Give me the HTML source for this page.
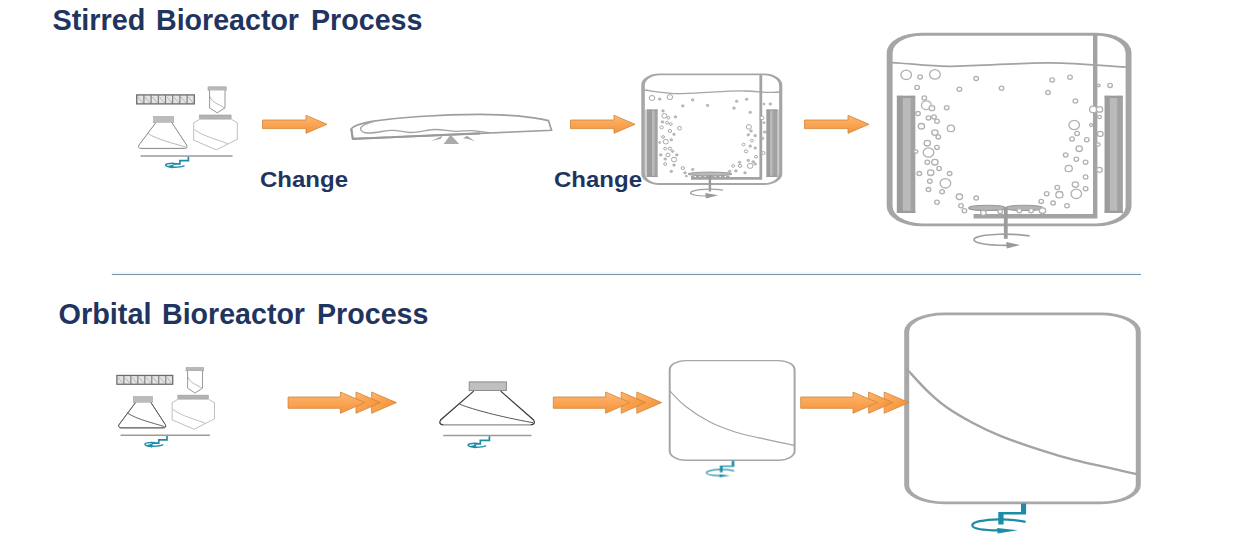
<!DOCTYPE html>
<html><head><meta charset="utf-8"><title>Bioreactor Process</title>
<style>
html,body{margin:0;padding:0;background:#fff;}
body{width:1249px;height:545px;overflow:hidden;position:relative;font-family:"Liberation Sans",sans-serif;}
svg{position:absolute;left:0;top:0;}
.t{font-family:"Liberation Sans",sans-serif;font-weight:bold;fill:#1f3560;}
</style></head><body>
<svg width="1249" height="545" viewBox="0 0 1249 545">
<defs>
<linearGradient id="og" x1="0" y1="0" x2="0" y2="1">
<stop offset="0" stop-color="#fdb772"/><stop offset="0.55" stop-color="#faa352"/><stop offset="1" stop-color="#f5933a"/>
</linearGradient>
<linearGradient id="hg" x1="0" y1="0" x2="1" y2="0.9"><stop offset="0" stop-color="#fdb56c"/><stop offset="0.5" stop-color="#f9a04c"/><stop offset="1" stop-color="#f08c2e"/></linearGradient>
<pattern id="hatch" width="7.3" height="10" patternUnits="userSpaceOnUse">
<rect width="7.3" height="10" fill="#d2d2d2"/><path d="M0.5 0V10" stroke="#777" stroke-width="1"/><path d="M1.5 1L6.5 9" stroke="#9a9a9a" stroke-width="0.8"/>
</pattern>
<filter id="bl"><feGaussianBlur stdDeviation="0.55"/></filter>
</defs>

<!-- TITLES -->
<g class="t" font-size="29.7">
<text x="52.5" y="29.7" textLength="93" lengthAdjust="spacingAndGlyphs">Stirred</text>
<text x="156" y="29.7" textLength="143" lengthAdjust="spacingAndGlyphs">Bioreactor</text>
<text x="311" y="29.7" textLength="111.5" lengthAdjust="spacingAndGlyphs">Process</text>
<text x="58.5" y="324" textLength="93" lengthAdjust="spacingAndGlyphs">Orbital</text>
<text x="162" y="324" textLength="143" lengthAdjust="spacingAndGlyphs">Bioreactor</text>
<text x="317" y="324" textLength="111.5" lengthAdjust="spacingAndGlyphs">Process</text>
</g>
<text class="t" x="260" y="187.1" font-size="22" textLength="88" lengthAdjust="spacingAndGlyphs">Change</text>
<text class="t" x="554" y="187.1" font-size="22" textLength="88" lengthAdjust="spacingAndGlyphs">Change</text>

<!-- divider -->
<path d="M111.8 273H1141" stroke="#edf9fc" stroke-width="2"/><path d="M111.8 274.5H1141" stroke="#80909d" stroke-width="1"/>

<g filter="url(#bl)">
<!-- ARROWS row 1 -->
<g fill="url(#og)" stroke="#cf8438" stroke-width="0.8">
<path id="ar1" d="M262.5 120H306V115.3L327 124.3L306 133.3V128.6H262.5Z"/>
<path d="M570.5 120H614V115.3L635 124.3L614 133.3V128.6H570.5Z"/>
<path d="M804.5 120H848V115.3L869 124.3L848 133.3V128.6H804.5Z"/>
</g>

<!-- ICON GROUP 1 (top-left) -->
<g id="ig1">
<rect x="136.7" y="94.9" width="57.6" height="9" fill="#e3e3e3" stroke="#6c6c6c" stroke-width="1.3"/>
<path d="M143.9 95V104M151.1 95V104M158.3 95V104M165.5 95V104M172.7 95V104M179.9 95V104M187.1 95V104" stroke="#777" stroke-width="1.1"/>
<path d="M138 97L143 103M145 97L150 103M152.5 97L157.5 103M159.5 97L164.5 103M167 97L172 103M174 97L179 103M181 97L186 103M188.5 97L193 103" stroke="#aaa" stroke-width="0.8"/>
<!-- tube -->
<rect x="208" y="86.8" width="18.2" height="3.6" fill="#b8b8b8" stroke="#a0a0a0" stroke-width="0.6"/>
<path d="M209.6 90.5V107.9L217.2 112.8L225 107.9V90.5" fill="#fff" stroke="#8a8a8a" stroke-width="0.9"/>
<path d="M210 96.5C212 103 219 104 224.5 108" fill="none" stroke="#999" stroke-width="0.7"/>
<!-- flask -->
<rect x="153.7" y="116.5" width="19.8" height="6.2" fill="#bcbcbc" stroke="#a2a2a2" stroke-width="0.6"/>
<path d="M155.8 122.7L139 145Q137.3 148.2 141 148.4H184.5Q188.3 148.2 186.6 145L171.9 122.7" fill="#fff" stroke="#858585" stroke-width="1"/>
<path d="M147.4 133.2C158 140 173 143 185.8 147.2" fill="none" stroke="#999" stroke-width="0.7"/>
<!-- bottle -->
<rect x="199.5" y="115" width="31.6" height="3.6" fill="#b3b3b3" stroke="#9c9c9c" stroke-width="0.6"/>
<path d="M199.8 119.2L193.7 122.7V140.2L216.3 149.8L237.3 139.3V122.7L231.2 119.2Z" fill="#fff" stroke="#adadad" stroke-width="0.8"/>
<path d="M194.5 129.7C205 137 216 139 227.7 143.7" fill="none" stroke="#a2a2a2" stroke-width="0.7"/>
<!-- base -->
<path d="M140.5 155.9H232.6" stroke="#9b9b9b" stroke-width="1.5"/>
<path d="M188.400 156.700V160.600H179.900V163.900H172.500" fill="none" stroke="#1f8ca8" stroke-width="1.700"/>
<path d="M176 163.600C170 162.800 164 164 166 165.800C168 167.600 180 167.800 184.500 165.600" fill="none" stroke="#1f8ca8" stroke-width="1.400"/>
<path d="M166.800 166.200L173.800 164.400L172.800 168.600Z" fill="#1f8ca8"/>
</g>

<!-- WAVE BAG -->
<g id="wave" fill="none" stroke="#a3a3a3">
<path d="M351.3 128.8L352.8 138.9L551.5 130.3L548.5 120.7C530 116.5 505 114.4 480 114.4C440 114.4 395 117.5 370.3 121.7C360 123.8 353 126.5 351.3 128.8Z" stroke-width="1.7" stroke="#9e9e9e" fill="#fff"/>
<path d="M351.300 128.800L352.800 138.900L480 133.400" stroke="#9a9a9a" stroke-width="2.100"/>
<path d="M375 121C365 123.5 360 126.5 360.7 129.3C361.5 132 364 133 368 133C378 133 385 130.2 392.5 130.3C400 130.4 404 132.5 410.7 132.5C420 132.5 428 129.5 435.9 129.5C443 129.5 448 131 455.1 131.3C462 131.5 466 130.5 470.3 130.6C477 130.8 483 132 490 132.7" stroke-width="1.3"/>
<path d="M450.6 134.8L443.6 144H459.2Z" fill="#aaa" stroke="none"/>
<path d="M430.800 141.200L442.800 135.600L440.500 139L436.500 139.800Z M474.800 141.200L467 135.800L463 138.200L468 139Z" fill="#a8a8a8" stroke="none"/>
</g>

<!-- BIOREACTOR 1 -->
<g id="br1" fill="none">
<path fill="#fff" d="M659.3 73.6H764.3A18.0 11.5 0 0 1 782.3 85.1V173.4A18.0 11.5 0 0 1 764.3 184.9H659.3A18.0 11.5 0 0 1 641.3 173.4V85.1A18.0 11.5 0 0 1 659.3 73.6Z"/>
<rect x="644.6" y="109.6" width="3" height="67.4" fill="#d0d0d0"/><rect x="776.8" y="109.6" width="2.6" height="67.4" fill="#cdcdcd"/>
<path fill-rule="evenodd" fill="#a6a6a6" d="M659.3 73.6H764.3A18.0 11.5 0 0 1 782.3 85.1V173.4A18.0 11.5 0 0 1 764.3 184.9H659.3A18.0 11.5 0 0 1 641.3 173.4V85.1A18.0 11.5 0 0 1 659.3 73.6Z M659.8 75.3A15.0 10.0 0 0 0 644.8 85.3V173.1A15.0 10.0 0 0 0 659.8 183.1H764.1A15.0 10.0 0 0 0 779.1 173.1V85.3A15.0 10.0 0 0 0 764.1 75.3Z"/>
<path d="M644.500 90C655 91.500 668 94 682 93.600C705 93 730 90.500 745 91C760 91.500 770 93.500 779.500 92" stroke="#a5a5a5" stroke-width="1.300"/>
<path d="M760.800 75V178.400H691" stroke="#a3a3a3" stroke-width="2.800"/>
<rect x="647.0" y="109.6" width="10.5" height="67.4" fill="#bababa"/><rect x="647.0" y="109.6" width="5.0" height="67.4" fill="#9c9c9c"/><rect x="654.7" y="109.6" width="2.8" height="67.4" fill="#a2a2a2"/><rect x="647.0" y="109.6" width="10.5" height="1.2" fill="#9c9c9c"/><rect x="647.0" y="175.8" width="10.5" height="1.2" fill="#9c9c9c"/>
<rect x="766.5" y="109.6" width="10.7" height="67.4" fill="#bababa"/><rect x="766.5" y="109.6" width="3.5" height="67.4" fill="#9c9c9c"/><rect x="772.5" y="109.6" width="4.7" height="67.4" fill="#a2a2a2"/><rect x="766.5" y="109.6" width="10.7" height="1.2" fill="#9c9c9c"/><rect x="766.5" y="175.8" width="10.7" height="1.2" fill="#9c9c9c"/>
<ellipse cx="710" cy="174" rx="22" ry="1.900" fill="#b9b9b9" stroke="#9a9a9a" stroke-width="1"/>
<path d="M691 176.800H731" stroke="#a4a4a4" stroke-width="1.600" stroke-dasharray="3.400 1.600"/>
<path d="M709.900 175V191.500" stroke="#9a9a9a" stroke-width="2.400"/>
<path d="M723 190.200C712 188.400 695 189 691 192C688.500 194.500 697 196.200 707 196" stroke="#a0a0a0" stroke-width="1.200"/>
<path d="M705.200 193L718.200 195.200L706 198.400Z" fill="#9a9a9a"/>
</g>
<g id="bub1" fill="#fff" stroke="#a8a8a8" stroke-width="1"><ellipse cx="652.0" cy="98.0" rx="2.8" ry="2.5"/><ellipse cx="659.7" cy="99.1" rx="1.3" ry="1.1" fill="#c4c4c4" stroke="#a4a4a4" stroke-width="0.8"/><ellipse cx="669.9" cy="97.1" rx="2.8" ry="2.5"/><ellipse cx="682.8" cy="105.9" rx="1.3" ry="1.1" fill="#c4c4c4" stroke="#a4a4a4" stroke-width="0.8"/><ellipse cx="692.7" cy="99.9" rx="1.3" ry="1.1" fill="#c4c4c4" stroke="#a4a4a4" stroke-width="0.8"/><ellipse cx="707.6" cy="105.4" rx="1.3" ry="1.1" fill="#c4c4c4" stroke="#a4a4a4" stroke-width="0.8"/><ellipse cx="734.0" cy="108.1" rx="1.3" ry="1.1" fill="#c4c4c4" stroke="#a4a4a4" stroke-width="0.8"/><ellipse cx="736.7" cy="101.3" rx="1.3" ry="1.1" fill="#c4c4c4" stroke="#a4a4a4" stroke-width="0.8"/><ellipse cx="746.6" cy="99.3" rx="1.3" ry="1.1" fill="#c4c4c4" stroke="#a4a4a4" stroke-width="0.8"/><ellipse cx="750.2" cy="112.3" rx="1.3" ry="1.1" fill="#c4c4c4" stroke="#a4a4a4" stroke-width="0.8"/><ellipse cx="764.0" cy="104.0" rx="1.0" ry="0.9" fill="#c4c4c4" stroke="#a4a4a4" stroke-width="0.8"/><ellipse cx="770.3" cy="104.0" rx="1.3" ry="1.1" fill="#c4c4c4" stroke="#a4a4a4" stroke-width="0.8"/><ellipse cx="663.0" cy="110.9" rx="1.3" ry="1.1" fill="#c4c4c4" stroke="#a4a4a4" stroke-width="0.8"/><ellipse cx="664.4" cy="115.8" rx="2.6" ry="2.3"/><ellipse cx="668.5" cy="117.8" rx="1.5" ry="1.3"/><ellipse cx="675.4" cy="116.9" rx="1.3" ry="1.1" fill="#c4c4c4" stroke="#a4a4a4" stroke-width="0.8"/><ellipse cx="662.5" cy="121.9" rx="1.3" ry="1.1" fill="#c4c4c4" stroke="#a4a4a4" stroke-width="0.8"/><ellipse cx="667.1" cy="122.7" rx="1.5" ry="1.3"/><ellipse cx="670.7" cy="124.1" rx="1.5" ry="1.3"/><ellipse cx="661.6" cy="127.4" rx="1.7" ry="1.5"/><ellipse cx="679.5" cy="128.2" rx="2.0" ry="1.8"/><ellipse cx="669.9" cy="131.0" rx="1.7" ry="1.5"/><ellipse cx="674.0" cy="134.3" rx="1.3" ry="1.1" fill="#c4c4c4" stroke="#a4a4a4" stroke-width="0.8"/><ellipse cx="663.0" cy="137.0" rx="1.5" ry="1.3"/><ellipse cx="665.8" cy="141.7" rx="2.6" ry="2.3"/><ellipse cx="671.3" cy="139.8" rx="1.3" ry="1.1" fill="#c4c4c4" stroke="#a4a4a4" stroke-width="0.8"/><ellipse cx="659.7" cy="142.5" rx="1.0" ry="0.9" fill="#c4c4c4" stroke="#a4a4a4" stroke-width="0.8"/><ellipse cx="665.2" cy="148.6" rx="1.5" ry="1.3"/><ellipse cx="669.9" cy="148.6" rx="1.7" ry="1.5"/><ellipse cx="672.6" cy="151.3" rx="1.3" ry="1.1" fill="#c4c4c4" stroke="#a4a4a4" stroke-width="0.8"/><ellipse cx="660.8" cy="154.9" rx="1.3" ry="1.1" fill="#c4c4c4" stroke="#a4a4a4" stroke-width="0.8"/><ellipse cx="668.0" cy="154.9" rx="2.0" ry="1.8"/><ellipse cx="676.8" cy="154.9" rx="1.3" ry="1.1" fill="#c4c4c4" stroke="#a4a4a4" stroke-width="0.8"/><ellipse cx="665.2" cy="159.0" rx="1.3" ry="1.1" fill="#c4c4c4" stroke="#a4a4a4" stroke-width="0.8"/><ellipse cx="674.0" cy="159.6" rx="2.6" ry="2.3"/><ellipse cx="665.2" cy="164.0" rx="1.5" ry="1.3"/><ellipse cx="674.0" cy="165.1" rx="1.3" ry="1.1" fill="#c4c4c4" stroke="#a4a4a4" stroke-width="0.8"/><ellipse cx="671.3" cy="171.4" rx="1.3" ry="1.1" fill="#c4c4c4" stroke="#a4a4a4" stroke-width="0.8"/><ellipse cx="682.8" cy="168.1" rx="1.7" ry="1.5"/><ellipse cx="692.7" cy="169.5" rx="1.3" ry="1.1" fill="#c4c4c4" stroke="#a4a4a4" stroke-width="0.8"/><ellipse cx="685.0" cy="172.8" rx="1.3" ry="1.1" fill="#c4c4c4" stroke="#a4a4a4" stroke-width="0.8"/><ellipse cx="686.4" cy="176.1" rx="1.0" ry="0.9" fill="#c4c4c4" stroke="#a4a4a4" stroke-width="0.8"/><ellipse cx="748.8" cy="126.9" rx="2.6" ry="2.3"/><ellipse cx="751.0" cy="131.0" rx="1.3" ry="1.1" fill="#c4c4c4" stroke="#a4a4a4" stroke-width="0.8"/><ellipse cx="748.3" cy="134.8" rx="1.3" ry="1.1" fill="#c4c4c4" stroke="#a4a4a4" stroke-width="0.8"/><ellipse cx="755.2" cy="135.7" rx="1.3" ry="1.1" fill="#c4c4c4" stroke="#a4a4a4" stroke-width="0.8"/><ellipse cx="762.0" cy="117.8" rx="2.0" ry="1.8"/><ellipse cx="764.0" cy="122.7" rx="1.0" ry="0.9" fill="#c4c4c4" stroke="#a4a4a4" stroke-width="0.8"/><ellipse cx="764.8" cy="132.1" rx="1.3" ry="1.1" fill="#c4c4c4" stroke="#a4a4a4" stroke-width="0.8"/><ellipse cx="762.6" cy="138.4" rx="1.3" ry="1.1" fill="#c4c4c4" stroke="#a4a4a4" stroke-width="0.8"/><ellipse cx="751.9" cy="140.6" rx="1.5" ry="1.3"/><ellipse cx="743.6" cy="144.5" rx="1.5" ry="1.3"/><ellipse cx="750.2" cy="146.1" rx="1.3" ry="1.1" fill="#c4c4c4" stroke="#a4a4a4" stroke-width="0.8"/><ellipse cx="755.2" cy="148.0" rx="1.3" ry="1.1" fill="#c4c4c4" stroke="#a4a4a4" stroke-width="0.8"/><ellipse cx="746.1" cy="151.3" rx="1.7" ry="1.5"/><ellipse cx="763.4" cy="153.0" rx="1.7" ry="1.5"/><ellipse cx="756.0" cy="156.8" rx="1.5" ry="1.3"/><ellipse cx="748.3" cy="160.4" rx="1.3" ry="1.1" fill="#c4c4c4" stroke="#a4a4a4" stroke-width="0.8"/><ellipse cx="753.2" cy="161.8" rx="1.3" ry="1.1" fill="#c4c4c4" stroke="#a4a4a4" stroke-width="0.8"/><ellipse cx="739.5" cy="162.3" rx="1.3" ry="1.1" fill="#c4c4c4" stroke="#a4a4a4" stroke-width="0.8"/><ellipse cx="733.2" cy="165.9" rx="1.5" ry="1.3"/><ellipse cx="740.0" cy="165.9" rx="1.7" ry="1.5"/><ellipse cx="750.2" cy="165.9" rx="2.8" ry="2.5"/><ellipse cx="755.2" cy="164.0" rx="1.3" ry="1.1" fill="#c4c4c4" stroke="#a4a4a4" stroke-width="0.8"/><ellipse cx="735.9" cy="170.9" rx="1.3" ry="1.1" fill="#c4c4c4" stroke="#a4a4a4" stroke-width="0.8"/><ellipse cx="745.0" cy="172.8" rx="1.3" ry="1.1" fill="#c4c4c4" stroke="#a4a4a4" stroke-width="0.8"/><ellipse cx="729.6" cy="171.4" rx="1.3" ry="1.1" fill="#c4c4c4" stroke="#a4a4a4" stroke-width="0.8"/></g>

<!-- BIOREACTOR 2 -->
<g id="br2" fill="none">
<path fill="#fff" d="M921.7 32.7H1096.5A35.0 20.0 0 0 1 1131.5 52.7V206.3A35.0 20.0 0 0 1 1096.5 226.3H921.7A35.0 20.0 0 0 1 886.7 206.3V52.7A35.0 20.0 0 0 1 921.7 32.7Z"/>
<path fill-rule="evenodd" fill="#a5a5a5" d="M921.7 32.7H1096.5A35.0 20.0 0 0 1 1131.5 52.7V206.3A35.0 20.0 0 0 1 1096.5 226.3H921.7A35.0 20.0 0 0 1 886.7 206.3V52.7A35.0 20.0 0 0 1 921.7 32.7Z M922.1 35.7A29.5 17.2 0 0 0 892.6 52.9V206.2A29.5 17.2 0 0 0 922.1 223.4H1096.1A29.5 17.2 0 0 0 1125.6 206.2V52.9A29.5 17.2 0 0 0 1096.1 35.7Z"/>
<path d="M892 62.600C910 63.500 930 66.500 950 66.300C985 66 1020 62.500 1050 62.800C1080 63 1105 66 1126 67.200" stroke="#a3a3a3" stroke-width="1.700"/>
<path d="M1095.200 34V216.200H973.600" stroke="#a3a3a3" stroke-width="4.400"/>
<rect x="896.9" y="95.8" width="18.3" height="117.2" fill="#bababa"/><rect x="896.9" y="95.8" width="5.9" height="117.2" fill="#9c9c9c"/><rect x="910.8" y="95.8" width="4.4" height="117.2" fill="#a2a2a2"/><rect x="896.9" y="95.8" width="18.3" height="2.2" fill="#9c9c9c"/><rect x="896.9" y="210.8" width="18.3" height="2.2" fill="#9c9c9c"/>
<rect x="1104.7" y="95.8" width="18.0" height="117.2" fill="#bababa"/><rect x="1104.7" y="95.8" width="5.1" height="117.2" fill="#9c9c9c"/><rect x="1117.2" y="95.8" width="5.5" height="117.2" fill="#a2a2a2"/><rect x="1104.7" y="95.8" width="18.0" height="2.2" fill="#9c9c9c"/><rect x="1104.7" y="210.8" width="18.0" height="2.2" fill="#9c9c9c"/>
<ellipse cx="987" cy="207.900" rx="18.400" ry="2.600" fill="#b4b4b4" stroke="#9a9a9a" stroke-width="1.100"/>
<ellipse cx="1024.300" cy="207.900" rx="18.400" ry="2.600" fill="#b4b4b4" stroke="#9a9a9a" stroke-width="1.100"/>
<path d="M1005.800 207V238.800" stroke="#9c9c9c" stroke-width="3.800"/>
<path d="M1029.700 235.800C1012 233.200 985 233.600 976 237.600C968 242 985 245.600 1008 245.400" stroke="#a0a0a0" stroke-width="1.700"/>
<path d="M1006.200 242L1020.100 245L1006.800 248.600Z" fill="#9a9a9a"/>
</g>
<g id="bub2" fill="#fff" stroke="#b0b0b0" stroke-width="1.3"><ellipse cx="906.2" cy="74.8" rx="5.3" ry="4.7"/><ellipse cx="920.1" cy="76.9" rx="2.3" ry="2.1"/><ellipse cx="934.9" cy="74.4" rx="5.3" ry="4.7"/><ellipse cx="917.1" cy="87.5" rx="2.3" ry="2.1"/><ellipse cx="959.4" cy="89.2" rx="2.3" ry="2.1"/><ellipse cx="976.2" cy="78.6" rx="2.3" ry="2.1"/><ellipse cx="1001.6" cy="88.3" rx="2.3" ry="2.1"/><ellipse cx="1048.0" cy="92.5" rx="2.3" ry="2.1"/><ellipse cx="1052.2" cy="79.9" rx="2.3" ry="2.1"/><ellipse cx="1070.0" cy="77.3" rx="2.3" ry="2.1"/><ellipse cx="1075.4" cy="101.0" rx="2.3" ry="2.1"/><ellipse cx="1098.7" cy="85.4" rx="1.5" ry="1.3"/><ellipse cx="1110.1" cy="85.4" rx="2.3" ry="2.1"/><ellipse cx="924.3" cy="98.0" rx="2.3" ry="2.1"/><ellipse cx="926.4" cy="105.2" rx="4.9" ry="4.4"/><ellipse cx="931.9" cy="108.2" rx="2.8" ry="2.5"/><ellipse cx="946.7" cy="107.7" rx="2.3" ry="2.1"/><ellipse cx="918.0" cy="113.6" rx="2.3" ry="2.1"/><ellipse cx="928.5" cy="117.9" rx="2.3" ry="2.1"/><ellipse cx="934.0" cy="117.0" rx="2.3" ry="2.1"/><ellipse cx="937.0" cy="121.2" rx="2.3" ry="2.1"/><ellipse cx="921.4" cy="126.3" rx="3.2" ry="2.8"/><ellipse cx="950.9" cy="128.4" rx="3.6" ry="3.2"/><ellipse cx="934.9" cy="132.6" rx="3.2" ry="2.8"/><ellipse cx="938.3" cy="136.9" rx="2.3" ry="2.1"/><ellipse cx="927.3" cy="143.2" rx="3.2" ry="2.8"/><ellipse cx="937.0" cy="147.4" rx="2.3" ry="2.1"/><ellipse cx="915.9" cy="151.6" rx="1.9" ry="1.7"/><ellipse cx="928.5" cy="152.5" rx="5.3" ry="4.7"/><ellipse cx="927.3" cy="162.2" rx="2.3" ry="2.1"/><ellipse cx="934.9" cy="162.2" rx="3.2" ry="2.8"/><ellipse cx="939.1" cy="168.5" rx="2.3" ry="2.1"/><ellipse cx="919.3" cy="173.6" rx="2.3" ry="2.1"/><ellipse cx="930.7" cy="172.7" rx="3.2" ry="2.8"/><ellipse cx="949.6" cy="173.6" rx="2.3" ry="2.1"/><ellipse cx="929.8" cy="181.2" rx="2.3" ry="2.1"/><ellipse cx="945.4" cy="183.3" rx="5.3" ry="4.7"/><ellipse cx="928.5" cy="189.6" rx="2.3" ry="2.1"/><ellipse cx="942.1" cy="191.7" rx="2.3" ry="2.1"/><ellipse cx="937.0" cy="202.3" rx="2.3" ry="2.1"/><ellipse cx="959.4" cy="196.8" rx="3.2" ry="2.8"/><ellipse cx="976.2" cy="198.1" rx="2.3" ry="2.1"/><ellipse cx="961.0" cy="205.7" rx="2.3" ry="2.1"/><ellipse cx="964.4" cy="210.7" rx="2.3" ry="2.1"/><ellipse cx="983.4" cy="212.8" rx="2.8" ry="2.5"/><ellipse cx="1000.3" cy="211.6" rx="2.3" ry="2.1"/><ellipse cx="1074.2" cy="125.0" rx="5.3" ry="4.7"/><ellipse cx="1077.1" cy="133.5" rx="2.3" ry="2.1"/><ellipse cx="1072.1" cy="139.0" rx="2.3" ry="2.1"/><ellipse cx="1086.8" cy="139.8" rx="2.3" ry="2.1"/><ellipse cx="1093.2" cy="109.4" rx="3.6" ry="3.2"/><ellipse cx="1099.5" cy="109.4" rx="3.2" ry="2.8"/><ellipse cx="1099.5" cy="117.0" rx="1.9" ry="1.7"/><ellipse cx="1091.1" cy="125.0" rx="1.5" ry="1.3"/><ellipse cx="1100.3" cy="133.9" rx="2.8" ry="2.5"/><ellipse cx="1098.2" cy="144.5" rx="1.9" ry="1.7"/><ellipse cx="1079.2" cy="148.7" rx="3.2" ry="2.8"/><ellipse cx="1065.7" cy="155.0" rx="2.3" ry="2.1"/><ellipse cx="1076.3" cy="159.2" rx="2.3" ry="2.1"/><ellipse cx="1085.6" cy="162.2" rx="2.3" ry="2.1"/><ellipse cx="1068.7" cy="168.5" rx="3.6" ry="3.2"/><ellipse cx="1099.5" cy="169.8" rx="2.8" ry="2.5"/><ellipse cx="1085.6" cy="177.0" rx="2.3" ry="2.1"/><ellipse cx="1075.4" cy="184.6" rx="3.2" ry="2.8"/><ellipse cx="1085.6" cy="188.8" rx="2.3" ry="2.1"/><ellipse cx="1057.3" cy="187.5" rx="2.3" ry="2.1"/><ellipse cx="1046.7" cy="193.8" rx="2.3" ry="2.1"/><ellipse cx="1059.4" cy="194.7" rx="3.6" ry="3.2"/><ellipse cx="1076.3" cy="193.8" rx="5.3" ry="4.7"/><ellipse cx="1041.2" cy="201.4" rx="2.3" ry="2.1"/><ellipse cx="1067.0" cy="205.7" rx="2.3" ry="2.1"/><ellipse cx="1053.1" cy="203.1" rx="2.3" ry="2.1"/><ellipse cx="1042.5" cy="210.7" rx="3.2" ry="2.8"/><ellipse cx="1031.1" cy="210.7" rx="2.3" ry="2.1"/><ellipse cx="1019.3" cy="210.7" rx="2.3" ry="2.1"/></g>

<!-- ROW 2 -->
<g id="ma" fill="url(#og)" stroke="#cf8438" stroke-width="0.8">
<path d="M371.6 392L396.4 402.6L371.6 413.3Z" fill="url(#hg)"/>
<path d="M356 392L380.6 402.6L356 413.3Z" fill="url(#hg)"/>
<path d="M288.1 397H340.4V392L364.8 402.6L340.4 413.3V408.3H288.1Z"/>
</g>
<use href="#ma" transform="translate(265.2 0)"/>
<use href="#ig1" transform="translate(-15.72 282.43) scale(0.97 0.98)"/>
<g transform="translate(-15.72 282.43) scale(0.97 0.98)" fill="none" stroke="#555" stroke-width="0.9"><path d="M155.8 122.7L139 145Q137.3 148.2 141 148.4H184.5Q188.3 148.2 186.600 145L171.900 122.700"/><path d="M147.400 133.200C158 140 173 143 185.800 147.200" stroke-width="0.700"/></g>

<!-- BIG FLASK -->
<g id="bf">
<rect x="469.2" y="381.9" width="37.2" height="8.6" fill="#c0c0c0" stroke="#8c8c8c" stroke-width="1"/>
<path d="M443.500 424.800H530.500" stroke="#8e8e8e" stroke-width="1.300" fill="none"/>
<path d="M473.700 391.100L440.600 420Q438 424.400 443.500 424.800M530.500 424.800Q536.200 424.400 533.600 420L500.700 391.100" fill="none" stroke="#3a3a3a" stroke-width="1.250"/>
<path d="M459.7 404.3C475 410 497 416 533.2 422.8" fill="none" stroke="#444" stroke-width="0.9"/>
<path d="M443.2 435.5H531.5" stroke="#9a9a9a" stroke-width="1.4"/>
<path d="M489.400 436.200V440.400H480.300V443.800H474" fill="none" stroke="#1f8ca8" stroke-width="1.700"/>
<path d="M478 443.500C472 442.800 466.500 444 468.500 445.800C470.500 447.600 481.500 447.800 486 445.600" fill="none" stroke="#1f8ca8" stroke-width="1.400"/>
<path d="M469.500 446.200L476.500 444.400L475.500 448.600Z" fill="#1f8ca8"/>
</g>

<!-- SMALL VESSEL -->
<g id="sv" fill="none">
<path fill-rule="evenodd" fill="#a6a6a6" d="M685.7 359.9H778.600A17 10 0 0 1 795.600 369.900V450.900A17 10 0 0 1 778.600 460.900H685.700A17 10 0 0 1 668.700 450.900V369.900A17 10 0 0 1 685.700 359.900Z M685.700 361.200A15 8.700 0 0 0 670.700 369.900V450.900A15 8.700 0 0 0 685.700 459.600H778.600A15 8.700 0 0 0 793.600 450.900V369.900A15 8.700 0 0 0 778.600 361.200Z"/>
<path d="M669.6 390.6C672.1 393.1 678.1 400.5 684.8 405.7C691.4 410.9 701.2 417.5 709.5 421.8C717.8 426.1 726.0 429.0 734.3 431.7C742.5 434.4 749.0 435.6 759.0 437.9C769.0 440.2 788.6 444.1 794.5 445.4" stroke="#a3a3a3" stroke-width="1.1"/>
<use href="#tm" transform="translate(200.780 183.870) scale(0.520 0.550)"/>
</g>

<!-- BIG VESSEL -->
<g id="bv" fill="none">
<path fill-rule="evenodd" fill="#a8a8a8" d="M944.2 312.500H1100.800A40 19 0 0 1 1140.800 331.500V485.300A40 19 0 0 1 1100.800 504.300H944.200A40 19 0 0 1 904.200 485.300V331.500A40 19 0 0 1 944.200 312.500Z M944.200 315.200A35 16.300 0 0 0 909.200 331.500V485.300A35 16.300 0 0 0 944.200 501.600H1100.800A35 16.300 0 0 0 1135.800 485.300V331.500A35 16.300 0 0 0 1100.800 315.200Z"/>
<path d="M907.0 369.3C910.4 372.9 921.0 384.9 927.5 391.2C934.0 397.4 938.2 401.4 945.9 406.8C953.5 412.2 964.2 418.4 973.4 423.3C982.6 428.2 989.8 431.7 1000.9 436.1C1012.0 440.5 1027.7 445.9 1040.0 449.9C1052.3 453.9 1058.8 456.1 1075.0 460.2C1091.2 464.2 1126.7 471.9 1137.0 474.2" stroke="#a3a3a3" stroke-width="2.400"/>
<g id="tm" fill="none" stroke="#1f8ca8">
<path d="M1021 503.600h5.100v10.800h-22.500v10h-5.300v-12.400h22.700z" fill="#1f8ca8" stroke="none"/>
<path d="M1025.600 521.900C1017 519.800 1008 519.200 999 519.300C984 519.600 971.500 522 972.300 525.500C973 528.800 984 530.300 999 530.400" stroke-width="2.300"/>
<path d="M997.200 528L1017.800 530.200L997.600 533.400Z" fill="#1f8ca8" stroke="none"/>
</g>
</g>
<use href="#ma" transform="translate(512.600 0)"/>
</g>
</svg>
</body></html>
